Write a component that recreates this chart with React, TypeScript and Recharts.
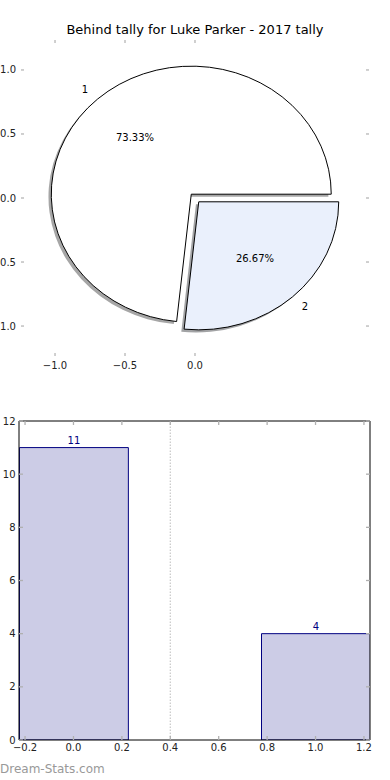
import React from 'react';
import { PieChart, Pie, ComposedChart, XAxis, YAxis, Bar, ReferenceLine, LabelList } from 'recharts';

// ---------------- data ----------------
const title = 'Behind tally for Luke Parker - 2017 tally';
const sliceLabels = ['1', '2'];
const sliceValues = [11, 4];
const sliceColors = ['#ffffff', '#eaf0fc'];
const sliceExplode = [0.04, 0.04];
const pieXTicks = [-1, -0.5, 0];
const pieYTicks = [1, 0.5, 0, -0.5, -1];

const barPositions = [0, 1];
const barValues = [11, 4];
const barXTicks = [-0.2, 0, 0.2, 0.4, 0.6, 0.8, 1.0, 1.2];
const barYTicks = [0, 2, 4, 6, 8, 10, 12];
const dividerX = 0.4;
const watermark = 'Dream-Stats.com';

// ---------------- layout ----------------
const W = 390;
const FONT = '"DejaVu Sans", sans-serif';
const TEXT = '#222';
const TICK = '#b0b0b0';

const P_H = 380;
const P_M = { top: 40, right: 21, bottom: 0, left: 0 };
const P_YW = 21;
const P_XH = 24;
const P_XDOM: [number, number] = [-1.243, 1.243];
const P_YDOM: [number, number] = [-1.234, 1.234];
const P_LEFT = P_M.left + P_YW;
const P_PW = W - P_LEFT - P_M.right;
const P_PH = P_H - P_M.top - P_M.bottom - P_XH;
const PX_X = P_PW / (P_XDOM[1] - P_XDOM[0]);
const PX_Y = P_PH / (P_YDOM[1] - P_YDOM[0]);
const PIE_CX = P_LEFT + (0 - P_XDOM[0]) * PX_X;
const PIE_CY = P_M.top + (P_YDOM[1] - 0) * PX_Y;
const PIE_R = PX_Y;
const X_STRETCH = PX_X / PX_Y;

const B_TOP = 400;
const B_H = 380;
const B_M = { top: 21, right: 20, bottom: 0, left: 0 };
const B_YW = 19;
const B_XH = 40;
const B_XDOM: [number, number] = [-0.225, 1.225];
const B_YDOM: [number, number] = [0, 12];
const B_LEFT = B_M.left + B_YW;
const B_PW = W - B_LEFT - B_M.right;
const B_PH = B_H - B_M.top - B_M.bottom - B_XH;
const BAR_WIDTH_DATA = 0.45;
const BAR_PX = (BAR_WIDTH_DATA * B_PW) / (B_XDOM[1] - B_XDOM[0]);

const pieData = sliceLabels.map((label, idx) => ({ label, value: sliceValues[idx], idx }));
const barData = barPositions.map((x, i) => ({ x, value: barValues[i] }));

const RAD = Math.PI / 180;
const fmt = (v: number) => v.toFixed(1).replace('-', '\u2212');

function wedgePath(cx: number, cy: number, r: number, a0: number, a1: number) {
  const rx = r * X_STRETCH;
  const ry = r;
  const x0 = cx + rx * Math.cos(a0 * RAD);
  const y0 = cy - ry * Math.sin(a0 * RAD);
  const x1 = cx + rx * Math.cos(a1 * RAD);
  const y1 = cy - ry * Math.sin(a1 * RAD);
  const large = Math.abs(a1 - a0) > 180 ? 1 : 0;
  return `M${cx},${cy} L${x0},${y0} A${rx},${ry} 0 ${large} 0 ${x1},${y1} Z`;
}

function explodeOffset(idx: number, mid: number) {
  const e = sliceExplode[idx] ?? 0;
  return [e * PX_X * Math.cos(mid * RAD), -e * PX_Y * Math.sin(mid * RAD)];
}

function shade(hex: string) {
  const n = parseInt(hex.slice(1), 16);
  const r = Math.round(((n >> 16) & 255) * 0.3);
  const g = Math.round(((n >> 8) & 255) * 0.3);
  const b = Math.round((n & 255) * 0.3);
  return `rgb(${r},${g},${b})`;
}

const ShadowWedge = (p: any) => {
  const i = p.idx ?? p.payload?.idx ?? 0;
  const mid = (p.startAngle + p.endAngle) / 2;
  const [ox, oy] = explodeOffset(i, mid);
  const sx = -0.02 * PX_X;
  const sy = 0.02 * PX_Y;
  return (
    <path
      d={wedgePath(p.cx + ox + sx, p.cy + oy + sy, p.outerRadius, p.startAngle, p.endAngle)}
      fill={shade(sliceColors[i])}
      fillOpacity={0.5}
      stroke="none"
    />
  );
};

const MainWedge = (p: any) => {
  const i = p.idx ?? p.payload?.idx ?? 0;
  const mid = (p.startAngle + p.endAngle) / 2;
  const [ox, oy] = explodeOffset(i, mid);
  const cx = p.cx + ox;
  const cy = p.cy + oy;
  const r = p.outerRadius;
  const c = Math.cos(mid * RAD);
  const s = Math.sin(mid * RAD);
  const lx = cx + 1.1 * r * X_STRETCH * c;
  const ly = cy - 1.1 * r * s;
  const px = cx + 0.6 * r * X_STRETCH * c;
  const py = cy - 0.6 * r * s;
  const total = sliceValues.reduce((a, b) => a + b, 0);
  const pct = ((sliceValues[i] / total) * 100).toFixed(2) + '%';
  return (
    <g>
      <path d={wedgePath(cx, cy, r, p.startAngle, p.endAngle)} fill={sliceColors[i]} stroke="#000" strokeWidth={1} />
      <text x={lx} y={ly} textAnchor={c > 0 ? 'start' : 'end'} dominantBaseline="central" fontSize={10} fill="#000" fontFamily={FONT}>
        {sliceLabels[i]}
      </text>
      <text x={px} y={py} textAnchor="middle" dominantBaseline="central" fontSize={10} fill="#000" fontFamily={FONT}>
        {pct}
      </text>
    </g>
  );
};

const PieXTick = (p: any) => {
  const { x, y, payload } = p;
  return (
    <g>
      <line x1={x} x2={x} y1={y} y2={y - 3} stroke={TICK} strokeWidth={1.2} />
      <line x1={x} x2={x} y1={P_M.top} y2={P_M.top + 3} stroke={TICK} strokeWidth={1.2} />
      <text x={x} y={y + 9} textAnchor="middle" dominantBaseline="central" fontSize={10} fill={TEXT} fontFamily={FONT}>
        {fmt(payload.value)}
      </text>
    </g>
  );
};

const PieYTick = (p: any) => {
  const { x, y, payload } = p;
  return (
    <g>
      <line x1={x} x2={x + 3} y1={y} y2={y} stroke={TICK} strokeWidth={1.2} />
      <line x1={x + P_PW - 3} x2={x + P_PW} y1={y} y2={y} stroke={TICK} strokeWidth={1.2} />
      <text x={x - 5} y={y} textAnchor="end" dominantBaseline="central" fontSize={10} fill={TEXT} fontFamily={FONT}>
        {fmt(payload.value)}
      </text>
    </g>
  );
};

const BarXTick = (p: any) => {
  const { x, y, payload } = p;
  return (
    <g>
      <line x1={x} x2={x} y1={y} y2={y - 4} stroke={TICK} strokeWidth={1.3} />
      <line x1={x} x2={x} y1={B_M.top} y2={B_M.top + 4} stroke={TICK} strokeWidth={1.3} />
      <text x={x} y={y + 7} textAnchor="middle" dominantBaseline="central" fontSize={10} fill={TEXT} fontFamily={FONT}>
        {fmt(payload.value)}
      </text>
    </g>
  );
};

const BarYTick = (p: any) => {
  const { x, y, payload } = p;
  return (
    <g>
      <line x1={x} x2={x + 4} y1={y} y2={y} stroke={TICK} strokeWidth={1.3} />
      <line x1={x + B_PW - 4} x2={x + B_PW} y1={y} y2={y} stroke={TICK} strokeWidth={1.3} />
      <text x={x - 3.5} y={y} textAnchor="end" dominantBaseline="central" fontSize={10} fill={TEXT} fontFamily={FONT}>
        {String(payload.value)}
      </text>
    </g>
  );
};

export default function App() {
  return (
    <div style={{ position: 'absolute', left: 0, top: 0, width: W, height: 780, background: '#fff', fontFamily: FONT, overflow: 'hidden' }}>
      <div style={{ position: 'absolute', left: 0, top: 0 }}>
        <ComposedChart width={W} height={P_H} margin={P_M}>
          <XAxis
            type="number"
            dataKey="x"
            domain={P_XDOM}
            allowDataOverflow
            ticks={pieXTicks}
            interval={0}
            height={P_XH}
            tickSize={0}
            tickMargin={0}
            tickLine={false}
            axisLine={false}
            tick={PieXTick}
          />
          <YAxis
            type="number"
            domain={P_YDOM}
            allowDataOverflow
            ticks={pieYTicks}
            interval={0}
            width={P_YW}
            tickSize={0}
            tickMargin={0}
            tickLine={false}
            axisLine={false}
            tick={PieYTick}
          />
        </ComposedChart>
      </div>
      <div style={{ position: 'absolute', left: 0, top: 0 }}>
        <PieChart width={W} height={P_H} margin={{ top: 0, right: 0, bottom: 0, left: 0 }}>
          <Pie
            data={pieData}
            dataKey="value"
            nameKey="label"
            cx={PIE_CX}
            cy={PIE_CY}
            outerRadius={PIE_R}
            innerRadius={0}
            startAngle={0}
            endAngle={360}
            isAnimationActive={false}
            stroke="none"
            shape={ShadowWedge}
          />
          <Pie
            data={pieData}
            dataKey="value"
            nameKey="label"
            cx={PIE_CX}
            cy={PIE_CY}
            outerRadius={PIE_R}
            innerRadius={0}
            startAngle={0}
            endAngle={360}
            isAnimationActive={false}
            stroke="none"
            shape={MainWedge}
          />
        </PieChart>
      </div>
      <div style={{ position: 'absolute', left: 0, top: 22, width: W, textAlign: 'center', fontSize: 13, lineHeight: '15px', color: '#000' }}>
        {title}
      </div>
      <div style={{ position: 'absolute', left: 0, top: B_TOP }}>
        <ComposedChart width={W} height={B_H} margin={B_M} data={barData}>
          <XAxis
            type="number"
            dataKey="x"
            domain={B_XDOM}
            allowDataOverflow
            ticks={barXTicks}
            interval={0}
            height={B_XH}
            tickSize={0}
            tickMargin={0}
            tickLine={false}
            axisLine={{ stroke: '#000', strokeWidth: 1 }}
            tick={BarXTick}
          />
          <YAxis
            type="number"
            domain={B_YDOM}
            allowDataOverflow
            ticks={barYTicks}
            interval={0}
            width={B_YW}
            tickSize={0}
            tickMargin={0}
            tickLine={false}
            axisLine={{ stroke: '#000', strokeWidth: 1 }}
            tick={BarYTick}
          />
          <ReferenceLine x={dividerX} stroke="#c8c8c8" strokeWidth={1.2} strokeDasharray="1.5 1.5" />
          <Bar dataKey="value" fill="#cccce6" stroke="#000080" strokeWidth={1} barSize={BAR_PX} isAnimationActive={false}>
            <LabelList dataKey="value" position="top" offset={4} fill="#000080" fontSize={10} fontFamily={FONT} />
          </Bar>
          <ReferenceLine y={B_YDOM[1]} stroke="#000" strokeWidth={1} />
          <ReferenceLine x={B_XDOM[1]} stroke="#000" strokeWidth={1} />
        </ComposedChart>
      </div>
      <div style={{ position: 'absolute', left: 0, top: 762, fontSize: 12, lineHeight: '15px', color: '#999' }}>
        {watermark}
      </div>
    </div>
  );
}
